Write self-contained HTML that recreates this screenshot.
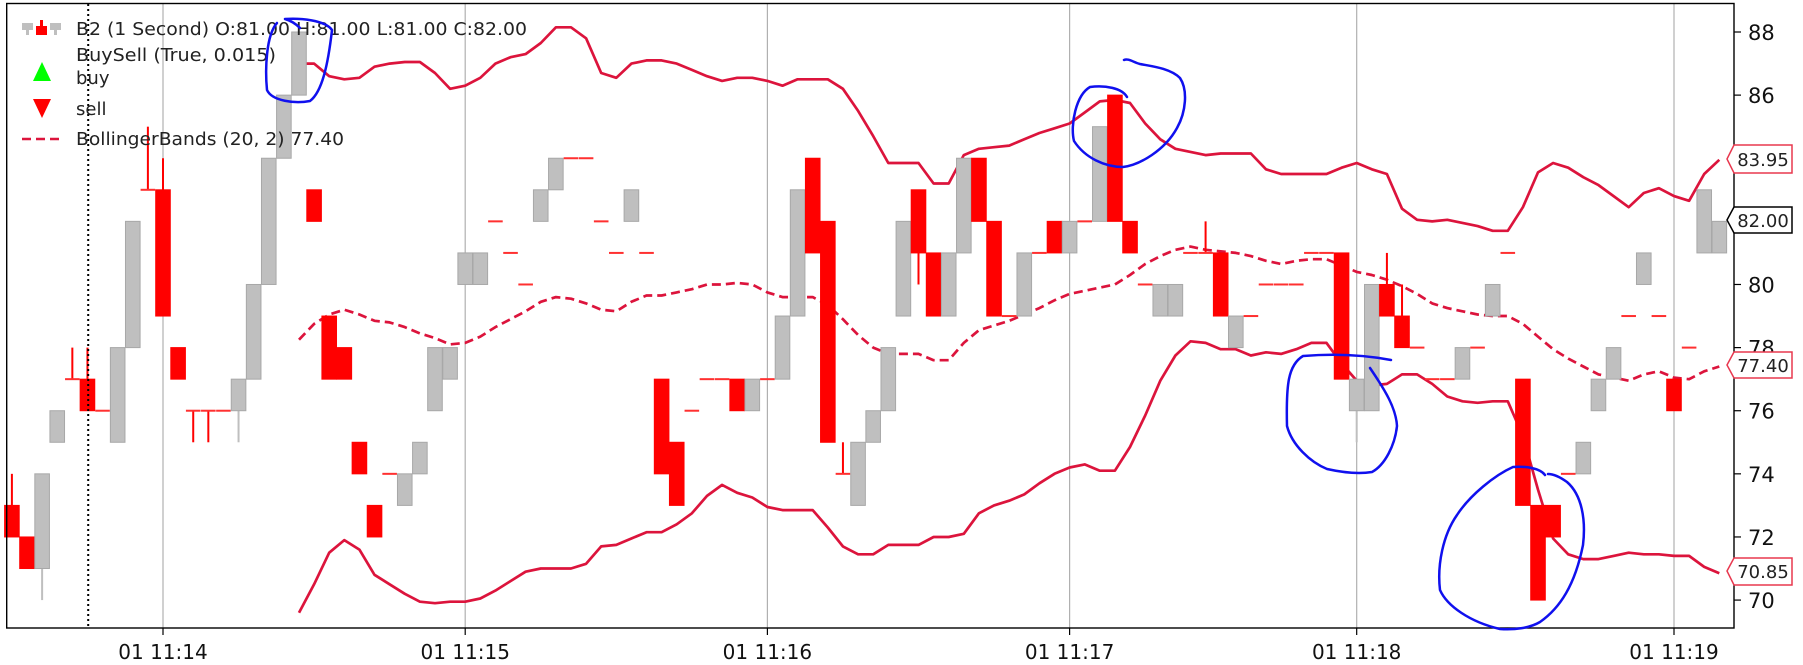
<!DOCTYPE html>
<html><head><meta charset="utf-8"><style>
html,body{margin:0;padding:0;background:#fff;}
svg{display:block;font-family:"DejaVu Sans","Liberation Sans",sans-serif;}
</style></head><body>
<svg id="chart" width="1803" height="665" viewBox="0 0 1803 665" xmlns="http://www.w3.org/2000/svg">
<rect x="0" y="0" width="1803" height="665" fill="#fff"/>
<g id="grid"></g>
<g id="bands"></g>
<g id="candles"></g>
<line id="dotline" y1="4" y2="628" stroke="#000" stroke-width="2" stroke-dasharray="2,3"/>
<rect x="6.7" y="3.5" width="1727.3" height="624.5" fill="none" stroke="#000" stroke-width="1.4"/>
<g id="yaxis"></g>
<g id="xaxis"></g>

<g font-size="18" fill="#222">
  <g>
    <rect x="22" y="23" width="11" height="7" fill="#bfbfbf"/><rect x="26" y="30" width="3" height="5" fill="#bfbfbf"/>
    <rect x="36" y="26" width="11" height="9" fill="#f00"/><rect x="40" y="20" width="3" height="6" fill="#f00"/>
    <rect x="50" y="23" width="11" height="7" fill="#bfbfbf"/><rect x="54" y="30" width="3" height="5" fill="#bfbfbf"/>
  </g>
  <text x="76" y="35" textLength="451" lengthAdjust="spacingAndGlyphs">B2 (1 Second) O:81.00 H:81.00 L:81.00 C:82.00</text>
  <text x="76" y="61" textLength="200" lengthAdjust="spacingAndGlyphs">BuySell (True, 0.015)</text>
  <polygon points="42,62 33,81 51,81" fill="#00ff00"/>
  <text x="76" y="84">buy</text>
  <polygon points="33,99 51,99 42,118" fill="#ff0000"/>
  <text x="76" y="115">sell</text>
  <line x1="22" y1="139" x2="60" y2="139" stroke="#dc143c" stroke-width="2.6" stroke-dasharray="9,5"/>
  <text x="76" y="145" textLength="268" lengthAdjust="spacingAndGlyphs">BollingerBands (20, 2) 77.40</text>
</g>

<g font-size="18">
  <g>
    <polygon points="1727,159 1734,145 1792,145 1792,173 1734,173" fill="#fff" stroke="#e8384f" stroke-width="1.5"/>
    <text x="1763" y="166" text-anchor="middle" fill="#222">83.95</text>
  </g>
  <g>
    <polygon points="1727,220 1734,207 1792,207 1792,233 1734,233" fill="#fff" stroke="#000" stroke-width="1.5"/>
    <text x="1763" y="227" text-anchor="middle" fill="#222">82.00</text>
  </g>
  <g>
    <polygon points="1727,365 1734,352 1792,352 1792,378 1734,378" fill="#fff" stroke="#e8384f" stroke-width="1.5"/>
    <text x="1763" y="372" text-anchor="middle" fill="#222">77.40</text>
  </g>
  <g>
    <polygon points="1727,571 1734,558 1792,558 1792,585 1734,585" fill="#fff" stroke="#e8384f" stroke-width="1.5"/>
    <text x="1763" y="578" text-anchor="middle" fill="#222">70.85</text>
  </g>
</g>

<g fill="none" stroke="#1010ee" stroke-width="2.5" stroke-linecap="round" stroke-linejoin="round">
  <path d="M277,23 C266,35 265,70 267,90 C272,101 295,104 310,101 C322,92 328,65 332,30 C325,20 300,18 285,19 C292,21 296,24 300,28"/>
  <path d="M1127,97 C1122,88 1105,85 1090,87 C1076,95 1070,125 1074,141 C1085,158 1105,167 1123,167 C1140,165 1165,150 1177,128 C1186,112 1188,90 1180,78 C1170,68 1150,66 1140,64 C1133,62 1128,58 1124,60"/>
  <path d="M1391,360 C1370,356 1340,353 1303,356 C1288,365 1286,385 1287,426 C1292,445 1310,462 1327,469 C1345,473 1360,474 1372,472 C1385,465 1395,445 1397,426 C1396,408 1385,390 1370,368"/>
  <path d="M1545,475 C1540,468 1525,466 1513,467 C1495,475 1470,495 1457,515 C1443,535 1437,565 1440,590 C1447,606 1470,622 1500,629 C1515,630 1530,628 1540,622 C1560,608 1575,585 1583,545 C1586,520 1582,495 1567,482 C1560,477 1553,474 1548,474"/>
</g>
</svg>
<script>
// ---- data ----
const opens  = [73,72,71,75,77,77,76,75,78,83,83,78,76,76,76,76,77,80,84,86,83,79,78,75,73,74,73,74,76,77,80,80,82,81,80,82,83,84,84,82,81,82,81,77,75,76,77,77,77,76,77,77,79,84,82,74,73,75,76,79,83,81,79,81,84,82,79,79,81,82,81,82,82,86,82,80,79,79,81,81,81,78,79,80,80,80,81,81,81,76,76,80,79,78,77,77,77,78,79,81,77,73,73,74,74,76,77,79,80,79,77,78,81,81];
const closes = [72,71,74,76,77,76,76,78,82,83,79,77,76,76,76,77,80,84,86,88,82,77,77,74,72,74,74,75,78,78,81,81,82,81,80,83,84,84,84,82,81,83,81,74,73,76,77,77,76,77,77,79,83,81,75,74,75,76,78,82,81,79,81,84,82,79,79,81,81,81,82,82,85,82,81,80,80,80,81,81,79,79,79,80,80,80,81,81,77,77,80,79,78,78,77,77,78,78,80,81,73,70,72,74,75,77,78,79,81,79,76,78,83,82];
const highs  = [74,72,74,76,78,78,76,78,82,85,84,78,76,76,76,77,80,84,86,88,83,79,78,75,73,74,74,75,78,78,81,81,82,81,80,83,84,84,84,82,81,83,81,77,75,76,77,77,77,77,77,79,83,84,82,75,75,76,78,82,83,81,81,84,84,82,79,81,81,82,82,82,85,86,82,80,80,80,81,82,81,79,79,80,80,80,81,81,81,77,80,81,80,78,77,77,78,78,80,81,77,73,73,74,75,77,78,79,81,79,77,78,83,82];
const lows   = [72,71,70,75,77,76,76,75,78,83,79,77,75,75,76,75,77,80,84,86,82,77,77,74,72,74,73,74,76,77,80,80,82,81,80,82,83,84,84,82,81,82,81,74,73,76,77,77,76,76,77,77,79,81,75,74,73,75,76,79,80,79,79,81,82,79,79,79,81,81,81,82,82,82,81,80,79,79,81,81,79,78,79,80,80,80,81,81,77,75,76,79,78,78,77,77,77,78,79,81,73,70,72,74,74,76,77,79,80,79,76,78,81,81];
const bandStart = 19;
const bbTop = [87.0,87.0,86.6,86.5,86.55,86.9,87.0,87.05,87.05,86.7,86.2,86.3,86.55,87.0,87.2,87.3,87.65,88.15,88.15,87.8,86.7,86.55,87.0,87.1,87.1,87.0,86.8,86.6,86.45,86.55,86.55,86.45,86.3,86.5,86.5,86.5,86.2,85.5,84.7,83.85,83.85,83.85,83.2,83.2,84.1,84.3,84.35,84.4,84.6,84.8,84.95,85.1,85.45,85.8,85.85,85.75,85.1,84.6,84.3,84.2,84.1,84.15,84.15,84.15,83.65,83.5,83.5,83.5,83.5,83.7,83.85,83.65,83.5,82.4,82.05,82.0,82.05,81.95,81.85,81.7,81.7,82.45,83.55,83.85,83.7,83.4,83.15,82.8,82.45,82.9,83.05,82.8,82.65,83.5,83.95];
const bbMid = [78.25,78.75,79.05,79.2,79.05,78.85,78.8,78.65,78.45,78.3,78.1,78.15,78.35,78.65,78.9,79.15,79.45,79.6,79.55,79.4,79.2,79.15,79.45,79.65,79.65,79.75,79.85,80.0,80.0,80.05,80.0,79.75,79.6,79.6,79.6,79.35,78.9,78.4,78.0,77.8,77.8,77.8,77.6,77.6,78.15,78.55,78.7,78.85,79.05,79.25,79.5,79.7,79.8,79.9,80.0,80.3,80.65,80.9,81.1,81.2,81.1,81.05,81.0,80.9,80.75,80.65,80.75,80.8,80.8,80.6,80.4,80.3,80.15,79.95,79.7,79.4,79.25,79.15,79.05,79.0,79.0,78.75,78.35,77.95,77.65,77.4,77.15,77.05,76.95,77.15,77.25,77.05,77.0,77.25,77.4];
const bbBot = [69.6,70.5,71.5,71.9,71.6,70.8,70.5,70.2,69.95,69.9,69.95,69.95,70.05,70.3,70.6,70.9,71.0,71.0,71.0,71.15,71.7,71.75,71.95,72.15,72.15,72.4,72.75,73.3,73.65,73.4,73.25,72.95,72.85,72.85,72.85,72.3,71.7,71.45,71.45,71.75,71.75,71.75,72.0,72.0,72.1,72.75,73.0,73.15,73.35,73.7,74.0,74.2,74.3,74.1,74.1,74.85,75.85,76.95,77.75,78.2,78.15,77.95,77.95,77.75,77.85,77.8,77.95,78.15,78.15,77.5,76.95,76.8,76.85,77.15,77.15,76.85,76.45,76.3,76.25,76.3,76.3,75.2,73.5,71.95,71.45,71.3,71.3,71.4,71.5,71.45,71.45,71.4,71.4,71.05,70.85];
const yTicks = [70,72,74,76,78,80,82,84,86,88];
const xTickIdx = [10,30,50,70,89,110];
const xTickLabels = ["01 11:14","01 11:15","01 11:16","01 11:17","01 11:18","01 11:19"];
const signalIdx = 5.05;

// ---- scales ----
const NS = "http://www.w3.org/2000/svg";
function xs(i){ return 163 + (i-10)*15.11; }
function ys(p){ return 32 + (88-p)*31.56; }
function mk(tag, attrs, parent){ const e=document.createElementNS(NS,tag); for(const k in attrs) e.setAttribute(k,attrs[k]); parent.appendChild(e); return e; }

const grid=document.getElementById('grid'), candles=document.getElementById('candles'), bands=document.getElementById('bands');
const yaxis=document.getElementById('yaxis'), xaxis=document.getElementById('xaxis');

xTickIdx.forEach((ti,k)=>{
  const x=xs(ti);
  const g=mk('line',{x1:x,x2:x,y1:4,y2:628,stroke:'#b0b0b0','stroke-width':1.2},grid);
  
  
  const t=mk('line',{x1:x,x2:x,y1:628,y2:635,stroke:'#000','stroke-width':1.2},xaxis);
  
  
  const l=mk('text',{x:x,y:659,'text-anchor':'middle','font-size':20,fill:'#111'},xaxis);
  
  
  l.textContent=xTickLabels[k];
});
yTicks.forEach(v=>{
  const y=ys(v);
  const t=mk('line',{x1:1734,x2:1741,y1:y,y2:y,stroke:'#000','stroke-width':1.2},yaxis);
  
  
  const l=mk('text',{x:1748,y:y+8,'font-size':21,fill:'#111'},yaxis);
  
  
  l.textContent=String(v);
});
const dl=document.getElementById('dotline'); dl.setAttribute('x1',xs(signalIdx)); dl.setAttribute('x2',xs(signalIdx));

// bands
function bandPath(arr, dashed, name){
  const pts=arr.map((v,k)=>xs(bandStart+k).toFixed(1)+','+ys(v).toFixed(1)).join(' ');
  const p=mk('polyline',{points:pts,fill:'none',stroke:'#dc143c','stroke-width':2.7,'stroke-linejoin':'round'},bands);
  if(dashed) p.setAttribute('stroke-dasharray','9,5');
  
  
}
bandPath(bbTop,false,'bb-upper');
bandPath(bbMid,true,'bb-middle');
bandPath(bbBot,false,'bb-lower');

// candles
const W=14.6;
opens.forEach((o,i)=>{
  const c=closes[i], h=highs[i], l=lows[i], x=xs(i);
  const up=c>o; const col=up?'#bfbfbf':'#ff0000'; const edge=up?'#a8a8a8':'#ff0000';
  const g=mk('g',{},candles);
  
  
  const top=Math.max(o,c), bot=Math.min(o,c);
  if(h>top) mk('line',{x1:x,x2:x,y1:ys(h),y2:ys(top),stroke:col,'stroke-width':2},g);
  if(l<bot) mk('line',{x1:x,x2:x,y1:ys(bot),y2:ys(l),stroke:col,'stroke-width':2},g);
  if(o===c){
    mk('line',{x1:x-W/2,x2:x+W/2,y1:ys(o),y2:ys(o),stroke:'#ff3030','stroke-width':2},g);
  } else {
    mk('rect',{x:x-W/2,y:ys(top),width:W,height:ys(bot)-ys(top),fill:col,stroke:edge,'stroke-width':1},g);
  }
});
</script>
</body></html>
